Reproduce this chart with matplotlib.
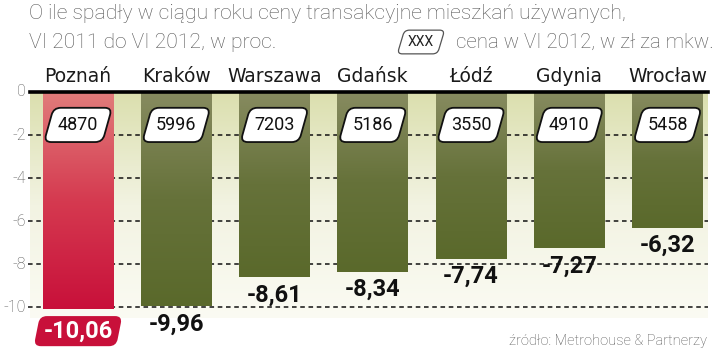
import numpy as np
import matplotlib
matplotlib.use("Agg")
import matplotlib.pyplot as plt
from matplotlib.colors import LinearSegmentedColormap
from matplotlib.path import Path

cities = ["Poznań", "Kraków", "Warszawa", "Gdańsk", "Łódź", "Gdynia", "Wrocław"]
changes = [-10.06, -9.96, -8.61, -8.34, -7.74, -7.27, -6.32]
prices = [4870, 5996, 7203, 5186, 3550, 4910, 5458]
yticks = [0, -2, -4, -6, -8, -10]

title1 = "O ile spadły w ciągu roku ceny transakcyjne mieszkań używanych,"
title2 = "VI 2011 do VI 2012, w proc."
legend_text = "cena w VI 2012, w zł za mkw."
source = "źródło: Metrohouse & Partnerzy"


def make_slanted(pad=0.3, skew=0.22, rad=0.35, padx=None):
    def style(x0, y0, width, height, mutation_size):
        p = pad * mutation_size
        px = (padx if padx is not None else pad) * mutation_size
        x0, y0 = x0 - px, y0 - p
        x1, y1 = x0 + width + 2 * px, y0 + height + 2 * p
        h = y1 - y0
        s = skew * h / 2
        pts = [(x0 - s, y0), (x1 - s, y0), (x1 + s, y1), (x0 + s, y1)]
        r = rad * mutation_size
        verts, codes = [], []
        n = len(pts)
        for k in range(n):
            pv = np.array(pts[k - 1])
            cv = np.array(pts[k])
            nv = np.array(pts[(k + 1) % n])
            d1 = (pv - cv) / np.linalg.norm(pv - cv)
            d2 = (nv - cv) / np.linalg.norm(nv - cv)
            a = cv + d1 * r
            b = cv + d2 * r
            verts.append(tuple(a))
            codes.append(Path.MOVETO if k == 0 else Path.LINETO)
            verts.append(tuple(cv)); codes.append(Path.CURVE3)
            verts.append(tuple(b)); codes.append(Path.CURVE3)
        verts.append(verts[0]); codes.append(Path.CLOSEPOLY)
        return Path(verts, codes)
    return style


W, H = 720, 351
fig = plt.figure(figsize=(7.2, 3.51), dpi=100)
fig.patch.set_facecolor("white")

ax_left, ax_right = 30, 708
y_top, y_bot = 92, 318
XL = (-0.4886, 6.412)
YL = (-10.5, 0)
ax = fig.add_axes([ax_left / W, 1 - y_bot / H, (ax_right - ax_left) / W, (y_bot - y_top) / H])
for s in ax.spines.values():
    s.set_visible(False)
ax.set_xticks([])
ax.set_yticks([])

bg = LinearSegmentedColormap.from_list("bg", ["#fbfbf3", "#f2f3e2", "#dbdfae"])
grad = np.linspace(0, 1, 256).reshape(-1, 1)
ax.imshow(grad, cmap=bg, aspect="auto", extent=[XL[0], XL[1], YL[0], YL[1]],
          origin="lower", zorder=0)

for t in yticks[1:]:
    ax.axhline(t, xmin=-0.003, xmax=1.0, color="#111111", lw=1.1,
               ls=(0, (3, 2.4)), zorder=1, clip_on=False)
for t in yticks:
    ax.text(-0.53, t, str(t), ha="right", va="center", fontsize=11.5,
            color="#555555", family="Roboto", fontweight="light")

x = np.arange(len(cities))
bars = ax.bar(x, changes, width=0.72, color="none", zorder=2)

red = LinearSegmentedColormap.from_list("red", ["#c8103a", "#d53a50", "#e17c7b"])
green = LinearSegmentedColormap.from_list("green", ["#5a692b", "#66723a", "#878b60"])
for i, b in enumerate(bars):
    x0 = b.get_x()
    x1 = x0 + b.get_width()
    yb = b.get_y() + b.get_height()
    cm = red if i == 0 else green
    ax.imshow(grad, cmap=cm, aspect="auto", extent=[x0, x1, yb, 0],
              origin="lower", zorder=2)

ax.set_xlim(*XL)
ax.set_ylim(*YL)

ax.axhline(0, color="black", lw=2.6, zorder=4, clip_on=False)

boxstyle_price = make_slanted(pad=0.45, padx=0.5, skew=0.28, rad=0.4)
boxstyle_val = make_slanted(pad=0.15, padx=0.28, skew=0.2, rad=0.3)
boxstyle_leg = make_slanted(pad=0.35, padx=0.5, skew=0.3, rad=0.35)

for i, (c, v, p) in enumerate(zip(cities, changes, prices)):
    ax.text(i, 0.7, c, ha="center", va="center", fontsize=13.5,
            color="#1a1a1a", family="DejaVu Sans", clip_on=False)
    ax.text(i, -1.53, str(p), ha="center", va="center", fontsize=13,
            color="#111111", family="Roboto", zorder=5,
            bbox=dict(boxstyle=boxstyle_price, fc="white", ec="#111111", lw=1.3))
    lab = f"{v:.2f}".replace(".", ",")
    if i == 0:
        ax.text(i, v - 1.05, lab, ha="center", va="center", fontsize=17,
                color="white", family="Roboto", fontweight="bold", zorder=5,
                clip_on=False,
                bbox=dict(boxstyle=boxstyle_val, fc="#c8103a", ec="none"))
    else:
        ax.text(i, v - 0.82, lab, ha="center", va="center", fontsize=17,
                color="#111111", family="Roboto", fontweight="bold", zorder=5,
                clip_on=False)

fig.text(29 / W, 1 - 19 / H, title1, ha="left", va="baseline", fontsize=15.2,
         color="#555555", family="Roboto", fontweight="light")
fig.text(29 / W, 1 - 48 / H, title2, ha="left", va="baseline", fontsize=15.2,
         color="#555555", family="Roboto", fontweight="light")
fig.text(421 / W, 1 - 42 / H, "XXX", ha="center", va="center", fontsize=10,
         color="#222222", family="Roboto",
         bbox=dict(boxstyle=boxstyle_leg, fc="white", ec="#555555", lw=0.9))
fig.text(714 / W, 1 - 48 / H, legend_text, ha="right", va="baseline",
         fontsize=14.8, color="#555555", family="Roboto", fontweight="light")

fig.text(707 / W, 1 - 345 / H, source, ha="right", va="baseline",
         fontsize=10.5, color="#555555", family="Roboto", fontweight="light")

fig.savefig("out.png", dpi=100)
